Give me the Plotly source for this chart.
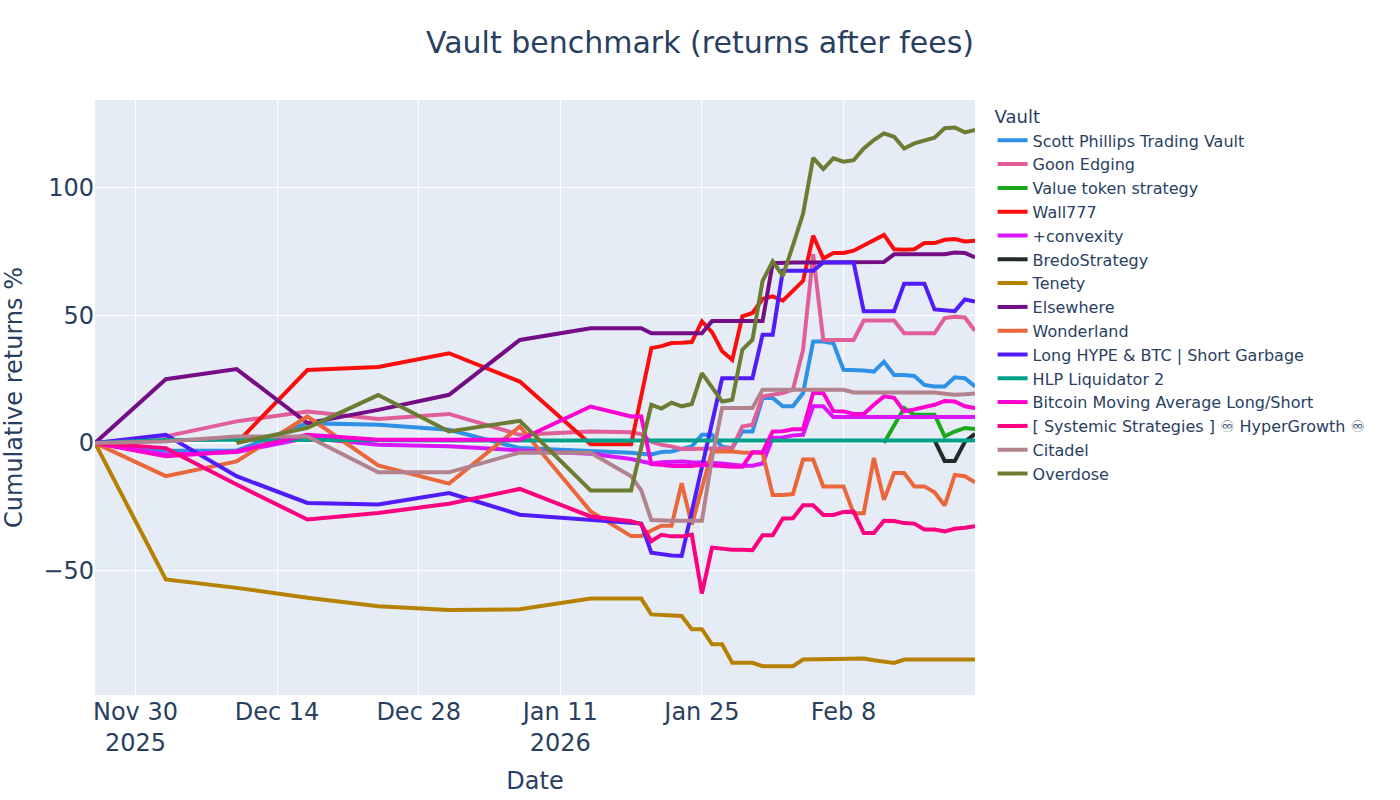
import plotly.graph_objects as go

dates = ["2025-11-26", "2025-12-03", "2025-12-10", "2025-12-17", "2025-12-24", "2025-12-31",
         "2026-01-07", "2026-01-14",
         "2026-01-18", "2026-01-19", "2026-01-20", "2026-01-21", "2026-01-22", "2026-01-23",
         "2026-01-24", "2026-01-25", "2026-01-26", "2026-01-27", "2026-01-28", "2026-01-29",
         "2026-01-30", "2026-01-31",
         "2026-02-01", "2026-02-02", "2026-02-03", "2026-02-04", "2026-02-05", "2026-02-06",
         "2026-02-07", "2026-02-08", "2026-02-09", "2026-02-10", "2026-02-11", "2026-02-12",
         "2026-02-13", "2026-02-14", "2026-02-15", "2026-02-16", "2026-02-17", "2026-02-18",
         "2026-02-19", "2026-02-20", "2026-02-21"]

N = None

scott_phillips = [0, -3, -3, 7.8, 7.2, 5.2, -2, -3,
                  -3.8, -4.2, -4.5, -3.5, -3.3, -2.3, -1.3, 3.2, 3.2, -1.5, -2, 4.5, 4.5, 17.7,
                  17.7, 14.4, 14.4, 19.6, 39.8, 39.8, 39.1, 28.7, 28.7, 28.4, 28, 31.9, 26.7, 26.7,
                  26.3, 22.8, 22.2, 22.2, 25.8, 25.4, 22.2]
goon_edging = [0, 2.6, 8.5, 12.4, 9.4, 11.4, 3.2, 4.5,
               4.2, 3.5, 0.5, -0.7, -1.3, -2.3, -2.3, -2.3, -2.3, -2, -2, 6.5, 7.2, 18.3,
               19, 19.6, 21, 36.5, 74, 40.4, 40.4, 40.4, 40.4, 48, 48, 48, 48, 43,
               43, 43, 43, 49, 49.5, 49.2, 44]
value_token = [N, N, N, N, N, N, N, N,
               N, N, N, N, N, N, N, N, N, N, N, N, N, N,
               N, N, N, N, N, N, N, N, N, N, N, 0, 7, 13.7,
               11.1, 11.1, 11.1, 2.6, 4.5, 5.9, 5.5]
wall777 = [N, N, 0, 28.6, 29.8, 35.2, 24.1, -0.5,
           -0.5, 19, 37.2, 38, 39.2, 39.3, 39.6, 47.7, 43.5, 36, 32.6, 49.7, 51, 56.5,
           57.5, 55.8, 59.5, 63.6, 81.3, 72.4, 74.5, 74.5, 75.4, 77.4, 79.3, 81.6, 76, 75.8,
           76, 78.4, 78.4, 79.7, 80, 79, 79.3]
convexity = [0, -4.5, -3.5, 2, -0.7, -1.3, -2.9, -4.2,
             -6.3, -7, -8, -7.5, -7.2, -7.2, -7.5, -7.8, -7.8, -8, -8.6, -8.9, -8.9, -8,
             2, 2.2, 3, 3.2, 14.4, 14.4, 10.2, 10.2, 10.2, 10.2, 10.2, 10.2, 10.2, 10.2,
             10.2, 10.2, 10.2, 10.2, 10.2, 10.2, 10.2]
bredo = [N, N, N, N, N, N, N, N,
         N, N, N, N, N, N, N, N, N, N, N, N, N, N,
         N, N, N, N, N, N, N, N, N, N, N, N, N, N,
         N, N, 1, -7, -7, 0.5, 3.6]
tenety = [0, -53.5, -56.8, -60.7, -64, -65.5, -65.2, -61,
          -61, -61, -67.2, -67.5, -67.6, -67.8, -73, -73, -78.9, -78.9, -86.2, -86.2, -86.2, -87.5,
          -87.5, -87.5, -87.5, -84.9, -84.8, -84.7, -84.6, -84.5, -84.4, -84.5, -85.2, -85.7, -86.2, -84.9,
          -84.9, -84.9, -84.9, -84.9, -84.9, -84.9, -84.9]
elsewhere = [0, 25, 29, 7.8, 13, 18.9, 40.4, 45,
             45, 45, 43, 43, 43, 43, 43, 43, 47.8, 47.8, 47.8, 47.8, 47.8, 47.8,
             70.5, 70.8, 70.8, 70.8, 70.8, 70.8, 70.8, 70.8, 70.8, 70.8, 70.8, 71, 74, 74,
             74, 74, 74, 74, 74.7, 74.5, 72.8]
wonderland = [0, -13, -7.2, 10.4, -8.8, -15.9, 6.5, -26.8,
              -36.5, -36.5, -34.3, -32.4, -32.4, -15.8, -32, -17, -3.3, -3.3, -3.3, -3.7, -3.7, -3.9,
              -20.4, -20.4, -20, -6.5, -6.5, -17, -17, -17, -27.5, -27.5, -5.9, -22.3, -11.8, -11.8,
              -17, -17, -19.3, -24.5, -12.5, -13, -15.4]
long_hype = [0, 3.2, -13, -23.5, -24.1, -19.6, -28.1, -30.3,
             -31.3, -31.6, -43, -43.7, -44.1, -44.3, -27, -9.5, 8, 25.4, 25.4, 25.4, 25.4, 42.5,
             42.5, 67.5, 67.5, 67.5, 67.5, 70.8, 70.8, 70.8, 70.8, 51.7, 51.7, 51.7, 51.7, 62.5,
             62.5, 62.5, 52.4, 52.2, 51.7, 56.3, 55.5]
hlp_liquidator = [0, 1.2, 1.3, 1.1, 1, 1, 1, 1,
                  1, 1, 1, 1, 1, 1, 1, 1, 1, 1, 1, 1, 1, 1,
                  1, 1, 1, 1, 1, 1, 1, 1, 1, 1, 1, 1, 1, 1,
                  1, 1, 1, 1, 1, 1, 1]
bitcoin_ma = [0, -5.2, -3.3, 3.2, 1.3, 1.3, 1.3, 14.3,
              10.4, 10.4, -8.3, -8.5, -9, -9, -9, -8.5, -8.6, -9, -9.3, -9.3, -3.6, -3.6,
              4.5, 4.6, 5.4, 5.4, 19.6, 19.6, 12.5, 12.4, 11.4, 11.4, 15, 18.3, 17.7, 12.4,
              13.2, 14, 15, 16.5, 16.3, 14.4, 13.7]
systemic = [0, -2, -16.3, -30, -27.4, -23.8, -18, -28.8,
            -30.7, -31.8, -38.5, -36, -36.6, -36.6, -35.9, -59, -41, -41.5, -41.8, -41.8, -42, -36.2,
            -36.2, -29.6, -29.5, -24.4, -24.4, -28.2, -28.2, -27, -26.9, -35.3, -35.3, -30.5, -30.6, -31.4,
            -31.6, -33.9, -33.9, -34.7, -33.6, -33.2, -32.6]
citadel = [0, 0.6, 2.6, 2.6, -11.5, -11.5, -3.7, -3.8,
           -13, -18.5, -30.2, -30.5, -30.5, -30.5, -30.5, -30.5, -6, 13.7, 13.7, 13.7, 13.7, 20.9,
           20.9, 20.9, 20.9, 20.9, 20.9, 20.9, 20.9, 20.9, 19.8, 19.8, 19.8, 19.8, 19.8, 19.8,
           19.8, 19.8, 19.8, 19.3, 18.9, 19.1, 19.4]
overdose = [N, N, 0, 6, 18.8, 4.5, 8.7, -18.6,
            -18.6, N, 15, 13.5, 15.8, 14.4, 15.3, 27.4, 22, 16.3, 17, 36.6, 40.5, 63.6,
            71.2, 65.5, 77.5, 89.9, 111.8, 107.4, 111.6, 110.3, 110.9, 115.5, 118.8, 121.4, 120.1, 115.5,
            117.5, 118.8, 119.7, 123.4, 123.7, 121.8, 122.8]

vault_names = ["Scott Phillips Trading Vault", "Goon Edging", "Value token strategy", "Wall777",
               "+convexity", "BredoStrategy", "Tenety", "Elsewhere", "Wonderland",
               "Long HYPE & BTC | Short Garbage", "HLP Liquidator 2",
               "Bitcoin Moving Average Long/Short",
               "[ Systemic Strategies ] \u267e\ufe0e HyperGrowth \u267e\ufe0e", "Citadel", "Overdose"]
vault_values = [scott_phillips, goon_edging, value_token, wall777, convexity, bredo, tenety,
                elsewhere, wonderland, long_hype, hlp_liquidator, bitcoin_ma, systemic, citadel,
                overdose]
colors = ["#2E91E5", "#E15F99", "#1CA71C", "#FB0D0D", "#DA16FF", "#222A2A", "#B68100",
          "#750D86", "#EB663B", "#511CFB", "#00A08B", "#FB00D1", "#FC0080", "#B2828D", "#6C7C32"]

FONT = "DejaVu Sans, Verdana, sans-serif"

fig = go.Figure()
for name, vals, col in zip(vault_names, vault_values, colors):
    fig.add_trace(go.Scatter(x=dates, y=vals, mode="lines", name=name,
                             line=dict(color=col, width=4), connectgaps=True))

fig.update_layout(
    template="plotly",
    width=1400, height=800,
    font=dict(family=FONT, color="#2a3f5f"),
    margin=dict(l=95, r=425, t=100, b=105, autoexpand=False),
    title=dict(text="Vault benchmark (returns after fees)", x=0.5, xanchor="center",
               y=0.96, font=dict(size=30)),
    legend=dict(title=dict(text="Vault", font=dict(size=18)), font=dict(size=16),
                x=1.02, y=1, xanchor="left", yanchor="top"),
    xaxis=dict(title=dict(text="Date", font=dict(size=24)), tickfont=dict(size=24),
               range=["2025-11-26", "2026-02-21"], tick0="2025-11-30",
               dtick=14 * 86400000),
    yaxis=dict(title=dict(text="Cumulative returns %", font=dict(size=24)),
               tickfont=dict(size=24), range=[-98.8, 134.5], dtick=50),
)

fig.write_html("out.html")
